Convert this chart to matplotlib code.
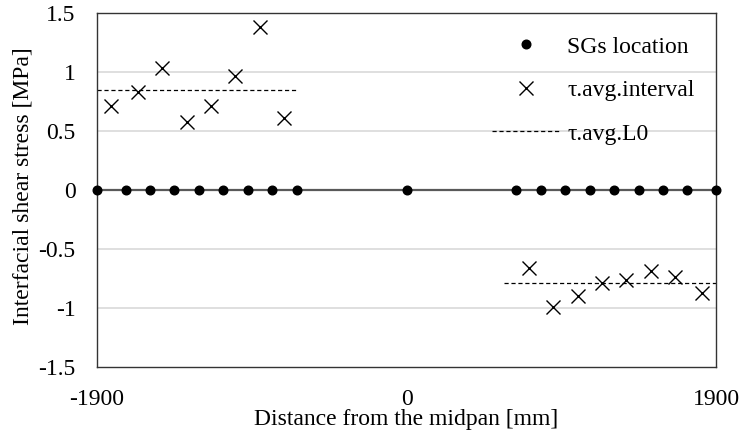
import matplotlib
matplotlib.use("Agg")
import matplotlib.pyplot as plt
from matplotlib.lines import Line2D

plt.rcParams['font.family'] = ['Liberation Serif', 'DejaVu Serif']
plt.rcParams['lines.scale_dashes'] = False

# Data
sg_x = [-1900, -1725, -1575, -1425, -1275, -1125, -975, -825, -675, 0,
        675, 825, 975, 1125, 1275, 1425, 1575, 1725, 1900]
sg_y = [0] * len(sg_x)

int_x_left = [-1812.5, -1650, -1500, -1350, -1200, -1050, -900, -750]
int_y_left = [0.71, 0.83, 1.03, 0.58, 0.71, 0.97, 1.38, 0.61]
int_x_right = [750, 900, 1050, 1200, 1350, 1500, 1650, 1812.5]
int_y_right = [-0.66, -0.99, -0.90, -0.79, -0.76, -0.69, -0.74, -0.87]

avg_x_left = [-1900, -675]
avg_y_left = [0.85, 0.85]
avg_x_right = [600, 1900]
avg_y_right = [-0.79, -0.79]

xticks = [-1900, 0, 1900]
xtick_labels = ['-1900', '0', '1900']
yticks = [-1.5, -1, -0.5, 0, 0.5, 1, 1.5]
ytick_labels = ['-1.5', '-1', '-0.5', '0', '0.5', '1', '1.5']

FS = 17

fig = plt.figure(figsize=(7.4, 4.37), dpi=100)
ax = fig.add_axes([97/740, 1-367/437, 619/740, 354/437])

ax.set_xlim(-1900, 1900)
ax.set_ylim(-1.5, 1.5)

for yv in [-1, -0.5, 0.5, 1]:
    ax.axhline(yv, color='#d9d9d9', lw=1.2, zorder=0)
ax.axhline(0, color='#595959', lw=1.6, zorder=1)

ax.plot(sg_x, sg_y, linestyle='none', marker='o', ms=6.2, color='black',
        clip_on=False, zorder=4)
ax.plot(int_x_left, int_y_left, linestyle='none', marker='x', ms=9.5, mew=1.0,
        color='black', zorder=3)
ax.plot(int_x_right, int_y_right, linestyle='none', marker='x', ms=9.5, mew=1.0,
        color='black', zorder=3)
ax.plot(avg_x_left, avg_y_left, color='black', lw=0.9, dashes=(3, 2), zorder=2)
ax.plot(avg_x_right, avg_y_right, color='black', lw=0.9, dashes=(3, 2), zorder=2)

ax.set_xticks(xticks)
ax.set_xticklabels(xtick_labels, fontsize=FS)
ax.set_yticks(yticks)
ax.set_yticklabels(ytick_labels, fontsize=FS)
ax.tick_params(axis='both', length=0)
ax.tick_params(axis='x', pad=16)
ax.tick_params(axis='y', pad=15.5)

for s in ax.spines.values():
    s.set_color('#333333')
    s.set_linewidth(1.0)

ax.set_xlabel('Distance from the midpan [mm]', fontsize=FS)
ax.set_ylabel('Interfacial shear stress [MPa]', fontsize=FS)
ax.xaxis.set_label_coords(0.5, -0.12)
ax.yaxis.set_label_coords(-0.102, 0.51)

handles = [
    Line2D([], [], linestyle='none', marker='o', ms=6.2, color='black'),
    Line2D([], [], linestyle='none', marker='x', ms=9.5, mew=1.0, color='black'),
    Line2D([], [], color='black', lw=0.9, dashes=(3, 2)),
]
labels = ['SGs location', 'τ.avg.interval', 'τ.avg.L0']
ax.legend(handles, labels, loc='upper left', bbox_to_anchor=(0.638, 0.935),
          frameon=False, fontsize=FS, borderpad=0, borderaxespad=0,
          handlelength=2.9, handletextpad=0.3, labelspacing=0.93)

fig.savefig('out.png', dpi=100)
